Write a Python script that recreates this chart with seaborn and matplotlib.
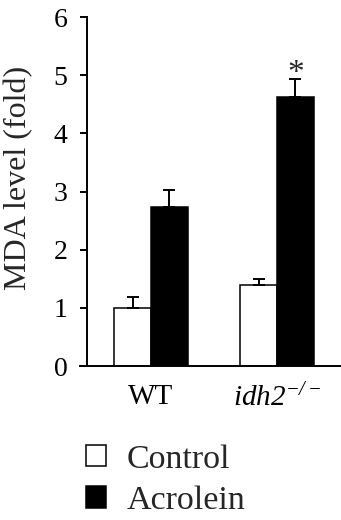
import matplotlib
matplotlib.use("Agg")
import matplotlib.pyplot as plt
import seaborn as sns
import pandas as pd
from matplotlib.patches import Patch

# Group labels and measured MDA levels (fold of WT control), mean and SEM
genotypes = ["WT", "idh2"]
tick_labels = ["WT", r"$idh2^{-/-}$"]
treatments = ["Control", "Acrolein"]
control_mean = [1.00, 1.39]
control_sem = [0.19, 0.11]
acrolein_mean = [2.73, 4.62]
acrolein_sem = [0.30, 0.32]
significant = [False, True]  # acrolein vs control marked with *

sns.set_theme(style="ticks")
plt.rcParams["font.family"] = ["Liberation Serif", "DejaVu Serif"]
plt.rcParams["mathtext.fontset"] = "custom"
plt.rcParams["mathtext.rm"] = "Liberation Serif:italic"
plt.rcParams["mathtext.it"] = "Liberation Serif:italic"

df = pd.DataFrame({
    "genotype": genotypes * 2,
    "treatment": [treatments[0]] * 2 + [treatments[1]] * 2,
    "mda": control_mean + acrolein_mean,
    "sem": control_sem + acrolein_sem,
})

fig = plt.figure(figsize=(3.41, 5.20), dpi=100)
ax = fig.add_axes([80 / 341, 154 / 520, 261 / 341, 349 / 520])

sns.barplot(data=df, x="genotype", y="mda", hue="treatment",
            order=genotypes, hue_order=treatments,
            palette={"Control": "white", "Acrolein": "black"},
            edgecolor="black", linewidth=1.1, width=0.58,
            errorbar=None, legend=False, ax=ax)

# one-sided SEM bars on top of each bar
for cont, tr in zip(ax.containers, treatments):
    sub = df[df["treatment"] == tr].set_index("genotype").loc[genotypes]
    xs = [b.get_x() + b.get_width() / 2 for b in cont]
    ax.errorbar(xs, sub["mda"], yerr=[[0] * len(xs), sub["sem"]],
                fmt="none", ecolor="black", elinewidth=1.4,
                capsize=4, capthick=1.4, zorder=3)
    if tr == "Acrolein":
        for x, m, s, sig in zip(xs, sub["mda"], sub["sem"], significant):
            if sig:
                ax.text(x, m + s - 0.05, "*", ha="center", va="baseline",
                        fontsize=24)

ax.set_xlim(-0.563, 1.508)
ax.set_ylim(0, 6)
ax.set_yticks(range(0, 7))
ax.set_xticks(range(len(genotypes)))
ax.set_xticklabels(tick_labels)
ax.set_xlabel("")
ax.set_ylabel("MDA level (fold)", fontsize=23)
ax.yaxis.set_label_coords(-0.18, 0.539)

sns.despine(ax=ax)
ax.spines["left"].set_position(("axes", 7 / 261))
for sp in ("left", "bottom"):
    ax.spines[sp].set_linewidth(1.4)
    ax.spines[sp].set_color("black")
ax.tick_params(axis="y", length=5, width=1.4, pad=9, labelsize=20,
               colors="black")
ax.tick_params(axis="x", length=0, pad=13, labelsize=21, colors="black")

handles = [Patch(facecolor="white", edgecolor="black", linewidth=1.1),
           Patch(facecolor="black", edgecolor="black", linewidth=1.1)]
fig.legend(handles, treatments, loc="upper left",
           bbox_to_anchor=(86 / 341, 1 - 444 / 520), frameon=False,
           fontsize=24.5, handlelength=0.6, handleheight=0.6,
           handletextpad=0.6, labelspacing=0.32, borderpad=0,
           borderaxespad=0)

fig.savefig("out.png", dpi=100)
